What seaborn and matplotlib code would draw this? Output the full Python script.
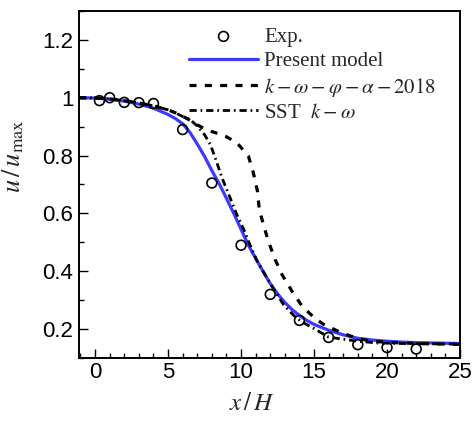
import matplotlib
matplotlib.use("Agg")
import matplotlib.pyplot as plt
import matplotlib.ticker as mticker
import numpy as np
import pandas as pd
import seaborn as sns

# Experimental centreline velocity decay
exp_x = [0.3, 1, 2, 3, 4, 6, 8, 10, 12, 14, 16, 18, 20, 22]
exp_u = [0.99, 1.0, 0.984, 0.983, 0.98, 0.89, 0.705, 0.49, 0.32, 0.23, 0.171, 0.146, 0.136, 0.131]

# Present model
model_x = [-1.1, 0, 1, 2, 3, 4, 5, 5.5, 6, 6.5, 7, 7.5, 8, 8.5, 9, 9.5, 10, 10.5,
           11, 11.5, 12, 12.5, 13, 13.5, 14, 14.5, 15, 16, 17, 18, 19, 20, 21, 22, 23, 24, 25]
model_u = [1.0, 0.999, 0.995, 0.988, 0.978, 0.964, 0.942, 0.928, 0.910, 0.880, 0.840,
           0.797, 0.748, 0.703, 0.652, 0.600, 0.545, 0.490, 0.445, 0.400, 0.357, 0.322,
           0.292, 0.267, 0.247, 0.230, 0.216, 0.196, 0.180, 0.168, 0.162, 0.158, 0.155,
           0.153, 0.152, 0.151, 0.150]

# k-omega-phi-alpha (2018)
kwpa_x = [-1.1, 0, 1, 2, 3, 4, 5, 5.5, 6, 6.5, 7, 7.5, 8, 8.5, 9, 9.7, 10.5, 10.84,
          11.12, 11.25, 11.53, 11.87, 12.33, 12.8, 13.5, 14.2, 15.0, 15.6, 16.2, 17,
          18, 19, 20, 22, 25]
kwpa_u = [1.0, 0.999, 0.996, 0.990, 0.982, 0.972, 0.958, 0.948, 0.936, 0.922, 0.906,
          0.893, 0.883, 0.875, 0.865, 0.845, 0.799, 0.741, 0.678, 0.614, 0.562, 0.504,
          0.441, 0.389, 0.330, 0.278, 0.240, 0.218, 0.203, 0.185, 0.167, 0.158, 0.154,
          0.150, 0.147]

# SST k-omega
sst_x = [-1.1, 0, 1, 2, 3, 4, 5, 5.5, 6, 6.5, 7, 7.5, 7.9, 8.3, 8.7, 9.25, 9.7, 10.2,
         10.6, 11.1, 11.8, 12.4, 12.9, 13.4, 13.8, 14.4, 15, 16, 17, 18, 19.3, 21, 23, 25]
sst_u = [1.0, 0.999, 0.996, 0.990, 0.982, 0.972, 0.958, 0.948, 0.935, 0.925, 0.902,
         0.872, 0.838, 0.782, 0.722, 0.654, 0.597, 0.543, 0.493, 0.435, 0.375, 0.325,
         0.285, 0.258, 0.238, 0.218, 0.202, 0.172, 0.165, 0.158, 0.152, 0.150, 0.149,
         0.148]

x_major = [0, 5, 10, 15, 20, 25]
y_major = [0.2, 0.4, 0.6, 0.8, 1.0, 1.2]

sns.set_style("ticks")
plt.rcParams["font.family"] = ["Liberation Sans", "DejaVu Sans"]
plt.rcParams["mathtext.fontset"] = "stix"

fig = plt.figure(figsize=(4.76, 4.22), dpi=100)
ax = fig.add_axes([0.166, 0.1517, 0.8004, 0.8223])

model_df = pd.DataFrame({"x": model_x, "u": model_u})
kwpa_df = pd.DataFrame({"x": kwpa_x, "u": kwpa_u})
sst_df = pd.DataFrame({"x": sst_x, "u": sst_u})
exp_df = pd.DataFrame({"x": exp_x, "u": exp_u})

sns.lineplot(data=model_df, x="x", y="u", ax=ax, color="#3a3aff", lw=2.3,
             sort=False, label="Present model", zorder=2)
sns.lineplot(data=kwpa_df, x="x", y="u", ax=ax, color="black", lw=2.3,
             sort=False, label=r"$k-\omega-\varphi-\alpha-2018$", zorder=3)
ax.lines[-1].set_dashes((2.2, 2.6))
sns.lineplot(data=sst_df, x="x", y="u", ax=ax, color="black", lw=2.0,
             sort=False, label=r"SST  $k-\omega$", zorder=3)
ax.lines[-1].set_dashes((2.6, 1.4, 0.6, 1.4))
sns.scatterplot(data=exp_df, x="x", y="u", ax=ax, marker="o", s=50,
                facecolor="none", edgecolor="black", linewidth=1.2,
                label="Exp.", zorder=4)

ax.set_xlim(-1.1, 25)
ax.set_ylim(0.1, 1.3)
ax.set_xticks(x_major)
ax.set_yticks(y_major)
ax.xaxis.set_minor_locator(mticker.MultipleLocator(1))
ax.yaxis.set_minor_locator(mticker.MultipleLocator(0.1))
ax.yaxis.set_major_formatter(mticker.FuncFormatter(lambda v, p: f"{v:g}"))
ax.tick_params(which="both", direction="in", top=False, right=False,
               width=1.0, labelsize=16, colors="black")
ax.tick_params(which="major", length=6.5)
ax.tick_params(which="minor", length=3.3)
ax.tick_params(axis="x", which="major", pad=3)
ax.tick_params(axis="y", which="major", pad=4)
for sp in ax.spines.values():
    sp.set_visible(True)
    sp.set_linewidth(1.4)
    sp.set_color("black")

ax.set_xlabel(r"$x\,/\,H$", fontsize=18)
ax.set_ylabel(r"$u\,/\,u_{\rm max}$", fontsize=19)
ax.xaxis.set_label_coords(0.454, -0.095)
ax.yaxis.set_label_coords(-0.138, 0.58)

handles, labels = ax.get_legend_handles_labels()
order = [labels.index(k) for k in ["Exp.", "Present model",
                                    r"$k-\omega-\varphi-\alpha-2018$", r"SST  $k-\omega$"]]
leg = ax.legend([handles[i] for i in order], [labels[i] for i in order],
                loc="upper left", bbox_to_anchor=(0.289, 0.953), frameon=False,
                prop={"family": "Liberation Serif", "size": 15},
                handlelength=3.3, handletextpad=0.3, labelspacing=0.22,
                borderpad=0, borderaxespad=0)

fig.savefig("out.png", dpi=100)
